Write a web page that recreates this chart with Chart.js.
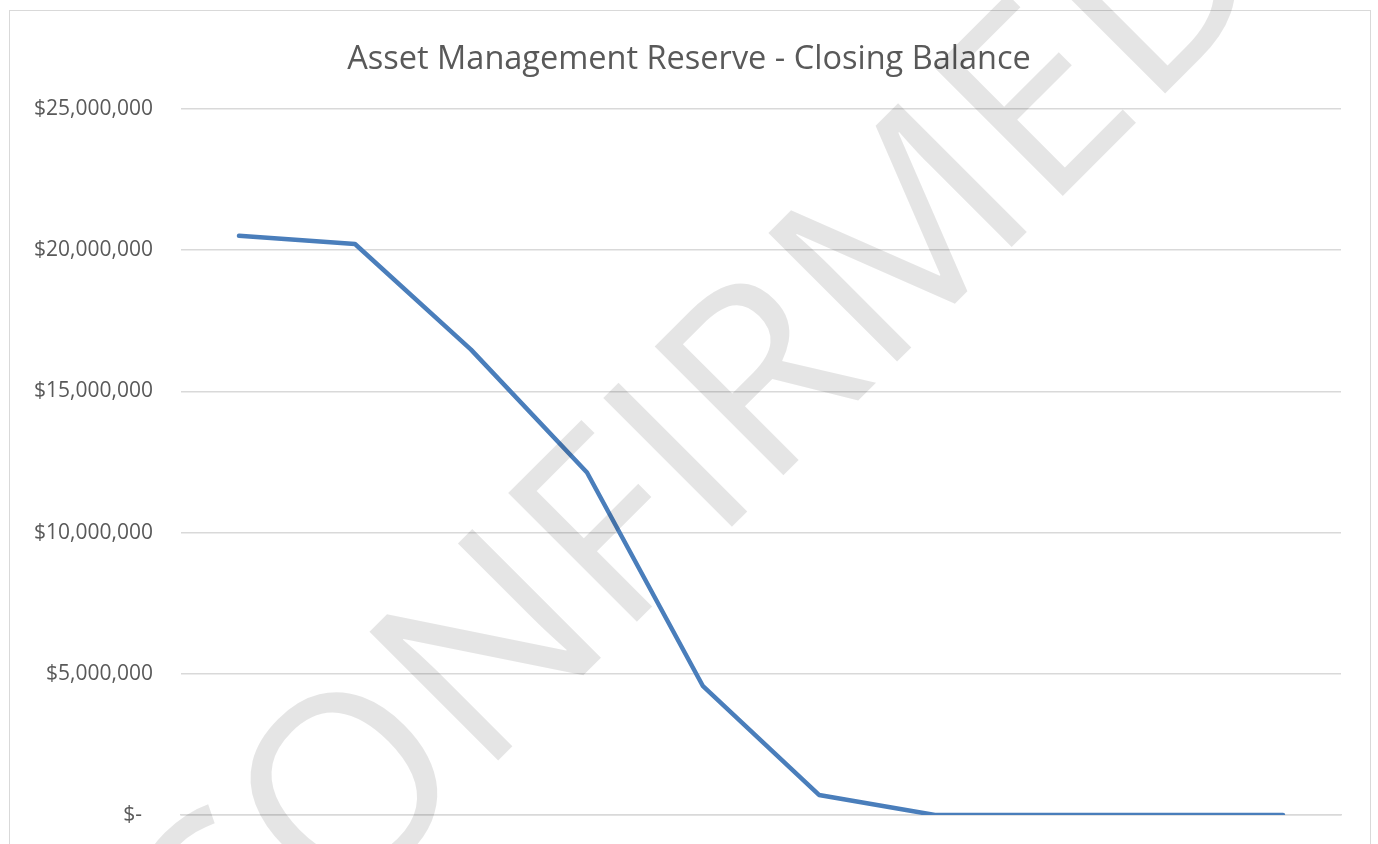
<!DOCTYPE html>
<html>
<head>
<meta charset="utf-8">
<title>Asset Management Reserve - Closing Balance</title>
<script src="https://cdn.jsdelivr.net/npm/chart.js@4/dist/chart.umd.min.js"></script>
<style>
  html, body { margin: 0; padding: 0; background: #fff; overflow: hidden; }
  #wrap { position: absolute; left: 0; top: 0; width: 1378px; height: 900px; }
</style>
</head>
<body>
<div id="wrap"><canvas id="balance-chart"></canvas></div>
<script>
// chart data
const periods = ['Year 1', 'Year 2', 'Year 3', 'Year 4', 'Year 5', 'Year 6', 'Year 7', 'Year 8', 'Year 9', 'Year 10'];
const closingBalance = [20510000, 20220000, 16480000, 12130000, 4560000, 710000, 0, 0, 0, 0];
const yTicks = [0, 5000000, 10000000, 15000000, 20000000, 25000000];
const chartTitle = 'Asset Management Reserve - Closing Balance';
const watermarkText = 'UNCONFIRMED';

const textGrey = '#595959';
const gridGrey = '#d9d9d9';

// Frame round the chart area (like the Excel chart border)
const framePlugin = {
    id: 'frame',
    beforeDraw(chart) {
        const ctx = chart.ctx;
        ctx.save();
        ctx.strokeStyle = gridGrey;
        ctx.lineWidth = 1;
        ctx.strokeRect(9.5, 10.5, 1361, 1000);
        ctx.restore();
    }
};

// Diagonal watermark drawn over everything
const watermarkPlugin = {
    id: 'watermark',
    afterDraw(chart) {
        const ctx = chart.ctx;
        ctx.save();
        ctx.translate(550, 580);
        ctx.rotate(-Math.PI / 4);
        ctx.font = '255px "Open Sans"';
        const w = ctx.measureText(watermarkText).width;
        ctx.scale(1885 / w, 1);
        ctx.textAlign = 'center';
        ctx.textBaseline = 'alphabetic';
        ctx.fillStyle = 'rgba(0, 0, 0, 0.1)';
        ctx.fillText(watermarkText, 0, 91);
        ctx.restore();
    }
};

const ctx = document.getElementById('balance-chart').getContext('2d');
window.myChart = new Chart(ctx, {
    type: 'line',
    data: {
        labels: periods,
        datasets: [{
            label: 'Closing Balance',
            data: closingBalance,
            borderColor: '#4a7ebb',
            borderWidth: 4.5,
            borderCapStyle: 'round',
            borderJoinStyle: 'round',
            pointRadius: 0,
            tension: 0,
            fill: false
        }]
    },
    options: {
        responsive: true,
        maintainAspectRatio: false,
        animation: false,
        layout: {
            padding: { left: 10, top: 11, right: 10, bottom: 85 }
        },
        plugins: {
            legend: { display: false },
            tooltip: { enabled: false },
            title: {
                display: true,
                text: chartTitle,
                color: textGrey,
                font: { family: '"Open Sans"', size: 32.5, weight: 'normal', lineHeight: 1.2 },
                padding: { top: 29, bottom: 30 }
            }
        },
        scales: {
            x: {
                offset: true,
                grid: { display: false, drawTicks: false },
                border: { display: true, color: gridGrey, width: 1.5 },
                ticks: { display: false }
            },
            y: {
                min: 0,
                max: 25000000,
                afterBuildTicks(scale) {
                    scale.ticks = yTicks.map(v => ({ value: v }));
                },
                afterFit(scale) {
                    scale.width = 171;
                },
                grid: { color: gridGrey, lineWidth: 1.5, drawTicks: false },
                border: { display: false },
                ticks: {
                    color: textGrey,
                    padding: 28,
                    font: { family: '"Open Sans"', size: 21 },
                    callback: v => v === 0 ? '$-  ' : '$' + v.toLocaleString('en-US')
                }
            },
            // empty right-hand spacer so the plot stops short of the frame
            spacer: {
                type: 'linear',
                position: 'right',
                display: true,
                grid: { display: false, drawTicks: false },
                border: { display: false },
                ticks: { display: false },
                afterFit(scale) {
                    scale.width = 27;
                }
            }
        }
    },
    plugins: [framePlugin, watermarkPlugin]
});
</script>
</body>
</html>
